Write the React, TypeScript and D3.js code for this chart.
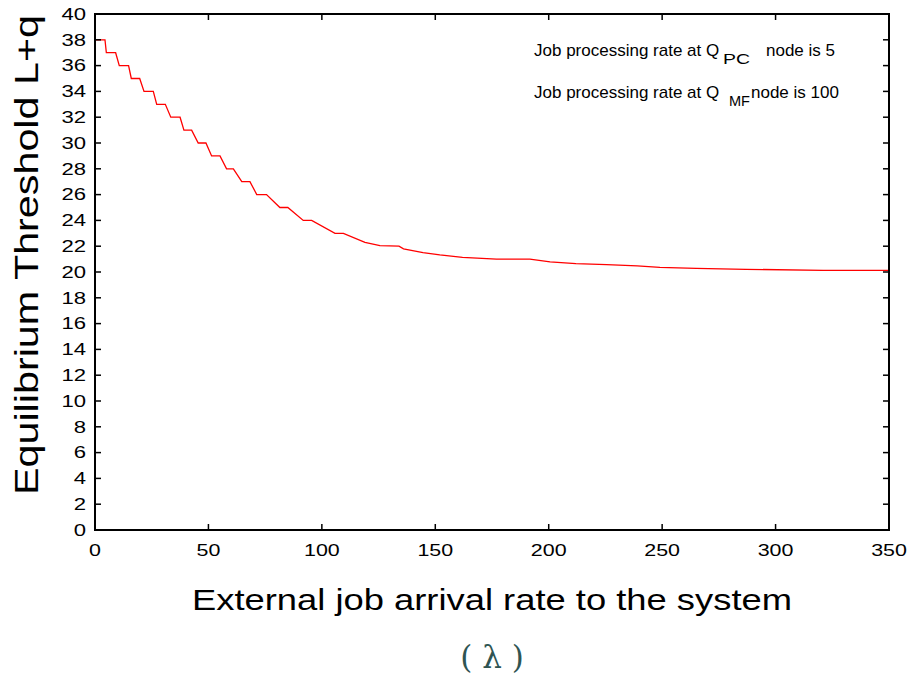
import React, { useEffect, useRef } from "react";
import * as d3 from "d3";

const WIDTH = 913;
const HEIGHT = 680;
const PLOT = { left: 95, right: 889, top: 14, bottom: 530 };

// equilibrium threshold: [arrival rate, L+q]
const RATE = [
  0, 4.4, 5, 9.1, 10.7, 14.8, 16, 19.7, 21.6, 25.7, 27.2, 31, 33.4, 37.5, 39.2, 42.6,
  45.5, 48.9, 51.4, 55.1, 58, 61, 64.7, 68.3, 71.3, 75.6, 81.5, 85, 91.8, 95.5, 105.8,
  109.5, 119, 125.6, 134, 136, 144.6, 152, 162, 177, 191.7, 200.6, 212, 225.5, 239,
  249, 265, 287, 321, 350,
];
const THRESHOLD = [
  38, 38, 37, 37, 36, 36, 35, 35, 34, 34, 33, 33, 32, 32, 31, 31,
  30, 30, 29, 29, 28, 28, 27, 27, 26, 26, 25, 25, 24, 24, 23,
  23, 22.3, 22.04, 22, 21.8, 21.5, 21.32, 21.14, 21.0, 21.0, 20.78, 20.65, 20.57, 20.47,
  20.36, 20.28, 20.21, 20.13, 20.12,
];
const X_TICKS = [0, 50, 100, 150, 200, 250, 300, 350];
const Y_TICKS = d3.range(0, 41, 2);

const FONT = "'Liberation Sans', Arial, Helvetica, sans-serif";

const App = () => {
  const svgRef = useRef(null);

  useEffect(() => {
    const x = d3.scaleLinear().domain([0, 350]).range([PLOT.left, PLOT.right]);
    const y = d3.scaleLinear().domain([0, 40]).range([PLOT.bottom, PLOT.top]);

    const svg = d3.select(svgRef.current);
    svg.selectAll("*").remove();

    svg.append("rect").attr("width", WIDTH).attr("height", HEIGHT).attr("fill", "white");

    // data line
    const points = RATE.map((r, i) => [r, THRESHOLD[i]]);
    const line = d3
      .line()
      .x((d) => x(d[0]))
      .y((d) => y(d[1]));
    svg
      .append("path")
      .datum(points)
      .attr("fill", "none")
      .attr("stroke", "#ff0000")
      .attr("stroke-width", 1.3)
      .attr("d", line);

    // inward ticks on all four sides
    const ticks = svg.append("g").attr("stroke", "black").attr("stroke-width", 1.5);
    const T = 6;
    X_TICKS.forEach((t) => {
      ticks.append("line").attr("x1", x(t)).attr("x2", x(t)).attr("y1", PLOT.bottom).attr("y2", PLOT.bottom - T);
      ticks.append("line").attr("x1", x(t)).attr("x2", x(t)).attr("y1", PLOT.top).attr("y2", PLOT.top + T);
    });
    Y_TICKS.forEach((t) => {
      ticks.append("line").attr("x1", PLOT.left).attr("x2", PLOT.left + T).attr("y1", y(t)).attr("y2", y(t));
      ticks.append("line").attr("x1", PLOT.right).attr("x2", PLOT.right - T).attr("y1", y(t)).attr("y2", y(t));
    });

    // frame
    svg
      .append("rect")
      .attr("x", PLOT.left)
      .attr("y", PLOT.top)
      .attr("width", PLOT.right - PLOT.left)
      .attr("height", PLOT.bottom - PLOT.top)
      .attr("fill", "none")
      .attr("stroke", "black")
      .attr("stroke-width", 2);

    // tick labels (stretched like the original)
    svg
      .append("g")
      .selectAll("text")
      .data(Y_TICKS)
      .join("text")
      .attr("transform", (d) => `translate(86,${y(d)}) scale(1.38,1)`)
      .attr("dy", "0.36em")
      .attr("text-anchor", "end")
      .attr("font-family", FONT)
      .attr("font-size", 16)
      .text((d) => d);

    svg
      .append("g")
      .selectAll("text")
      .data(X_TICKS)
      .join("text")
      .attr("transform", (d) => `translate(${x(d)},556) scale(1.34,1)`)
      .attr("text-anchor", "middle")
      .attr("font-family", FONT)
      .attr("font-size", 16)
      .text((d) => d);

    // axis titles
    svg
      .append("text")
      .attr("transform", "translate(38,255) rotate(-90)")
      .attr("text-anchor", "middle")
      .attr("font-family", FONT)
      .attr("font-size", 34)
      .attr("textLength", 480)
      .attr("lengthAdjust", "spacingAndGlyphs")
      .text("Equilibrium Threshold L+q");

    svg
      .append("text")
      .attr("x", 492)
      .attr("y", 610)
      .attr("text-anchor", "middle")
      .attr("font-family", FONT)
      .attr("font-size", 30)
      .attr("textLength", 600)
      .attr("lengthAdjust", "spacingAndGlyphs")
      .text("External job arrival rate to the system");

    svg
      .append("text")
      .attr("x", 492)
      .attr("y", 668)
      .attr("text-anchor", "middle")
      .attr("font-family", "'DejaVu Serif', 'Liberation Serif', serif")
      .attr("font-size", 31)
      .attr("fill", "#2f5452")
      .text("( λ )");

    // annotations: one text each, subscript as a lowered tspan
    const note = svg.append("g").attr("font-family", FONT).attr("fill", "black");
    const annotate = (yy, sub, subX, subDy, subLen, rest, restX) => {
      const t = note.append("text").attr("x", 534).attr("y", yy).attr("font-size", 17);
      t.append("tspan").text("Job processing rate at Q");
      t.append("tspan")
        .attr("x", subX)
        .attr("dy", subDy)
        .attr("font-size", 15)
        .attr("textLength", subLen)
        .attr("lengthAdjust", "spacingAndGlyphs")
        .text(sub);
      t.append("tspan").attr("x", restX).attr("dy", -subDy).text(rest);
    };
    annotate(56, "PC", 723, 8, 27, "node is  5", 766);
    annotate(98, "MF", 729, 8, 21, "node is 100", 751);
  }, []);

  return (
    <svg
      ref={svgRef}
      width={WIDTH}
      height={HEIGHT}
      style={{ position: "absolute", left: 0, top: 0 }}
    />
  );
};

export default App;
